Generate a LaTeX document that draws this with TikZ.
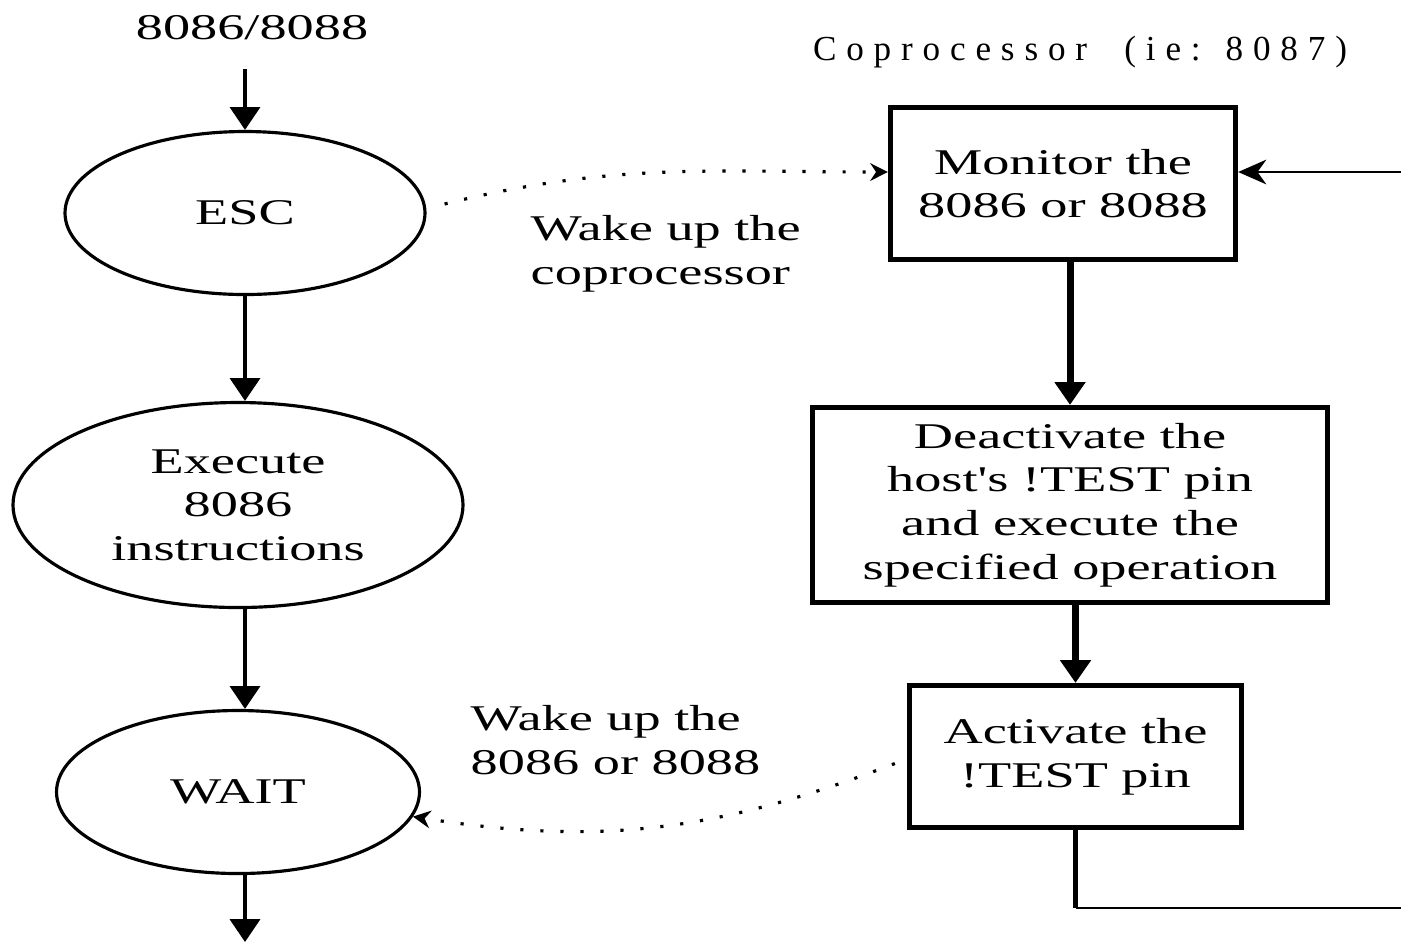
\documentclass[tikz,border=0pt]{standalone}
\usepackage{fontspec}
\setmainfont{Liberation Serif}[FakeStretch=1.5, Ligatures=TeXOff]
\newfontfamily\spacedfont{Liberation Serif}[LetterSpace=28]
\usetikzlibrary{shapes.geometric,arrows.meta}

\begin{document}
\begin{tikzpicture}[
    font=\fontsize{10.3}{12.4}\selectfont,
    state/.style={ellipse, draw, line width=0.9pt, inner sep=0pt, align=center},
    task/.style={rectangle, draw, line width=1.5pt, inner sep=0pt, align=center},
    flow/.style={-{Triangle[width=8.5pt,length=6.5pt]}, line width=1.1pt},
    signal/.style={-{Stealth[width=5pt,length=5pt]}, line width=0.9pt, dash pattern=on 0.9pt off 4.8pt},
    back/.style={-{Stealth[width=7pt,length=8pt,inset=2.5pt]}, line width=0.7pt}
]
    \useasboundingbox (0,0) rectangle (14.01,-9.43);

    % Host side
    \node[anchor=base] (host) at (2.52,-0.39) {8086/8088};
    \node[state, minimum width=3.60cm, minimum height=1.63cm] (esc) at (2.45,-2.13) {ESC};
    \node[state, minimum width=4.50cm, minimum height=2.05cm] (exec) at (2.38,-5.05) {Execute\\8086\\instructions};
    \node[state, minimum width=3.63cm, minimum height=1.63cm] (wait) at (2.38,-7.92) {WAIT};
    \coordinate (hostin) at (2.45,-0.69);
    \coordinate (hostout) at (2.45,-9.42);

    % Coprocessor side
    \node[anchor=base, font=\spacedfont\fontsize{10}{12}\selectfont] (cop) at (10.80,-0.60) {Coprocessor\ \ (ie: 8087)};
    \node[task, minimum width=3.45cm, minimum height=1.52cm] (mon) at (10.63,-1.835) {Monitor the\\8086 or 8088};
    \node[task, minimum width=5.15cm, minimum height=1.95cm] (deact) at (10.70,-5.05) {Deactivate the\\host's !TEST pin\\and execute the\\specified operation};
    \node[task, minimum width=3.32cm, minimum height=1.42cm] (act) at (10.755,-7.565) {Activate the\\!TEST pin};
    \coordinate (loopdown) at (14.30,-9.08);

    % Labels
    \node[anchor=north west, inner sep=0pt, align=left] (wake1) at (5.30,-2.15) {Wake up the\\coprocessor};
    \node[anchor=north west, inner sep=0pt, align=left] (wake2) at (4.70,-7.05) {Wake up the\\8086 or 8088};

    % Flow
    \draw[flow] (hostin) -- (esc.north);
    \draw[flow] (esc.south) -- (esc.south |- exec.north);
    \draw[flow] (esc.south |- exec.south) -- (esc.south |- wait.north);
    \draw[flow] (esc.south |- wait.south) -- (hostout);
    \draw[flow, line width=2pt] (deact.north |- mon.south) -- (deact.north);
    \draw[flow, line width=1.8pt] (act.north |- deact.south) -- (act.north);
    \draw[line width=1.4pt] (act.south) -- (act.south |- loopdown);
    \draw[back] (act.south |- loopdown) -- (loopdown) |- ([yshift=0.115cm]mon.east);

    % Signals
    \draw[signal] ([shift={(0.18,0.09)}]esc.east) to[out=14, in=180] ([yshift=0.115cm]mon.west);
    \draw[signal] ([shift={(-0.12,-0.07)}]act.west) to[out=201, in=-9] (wait.-8);
\end{tikzpicture}
\end{document}
